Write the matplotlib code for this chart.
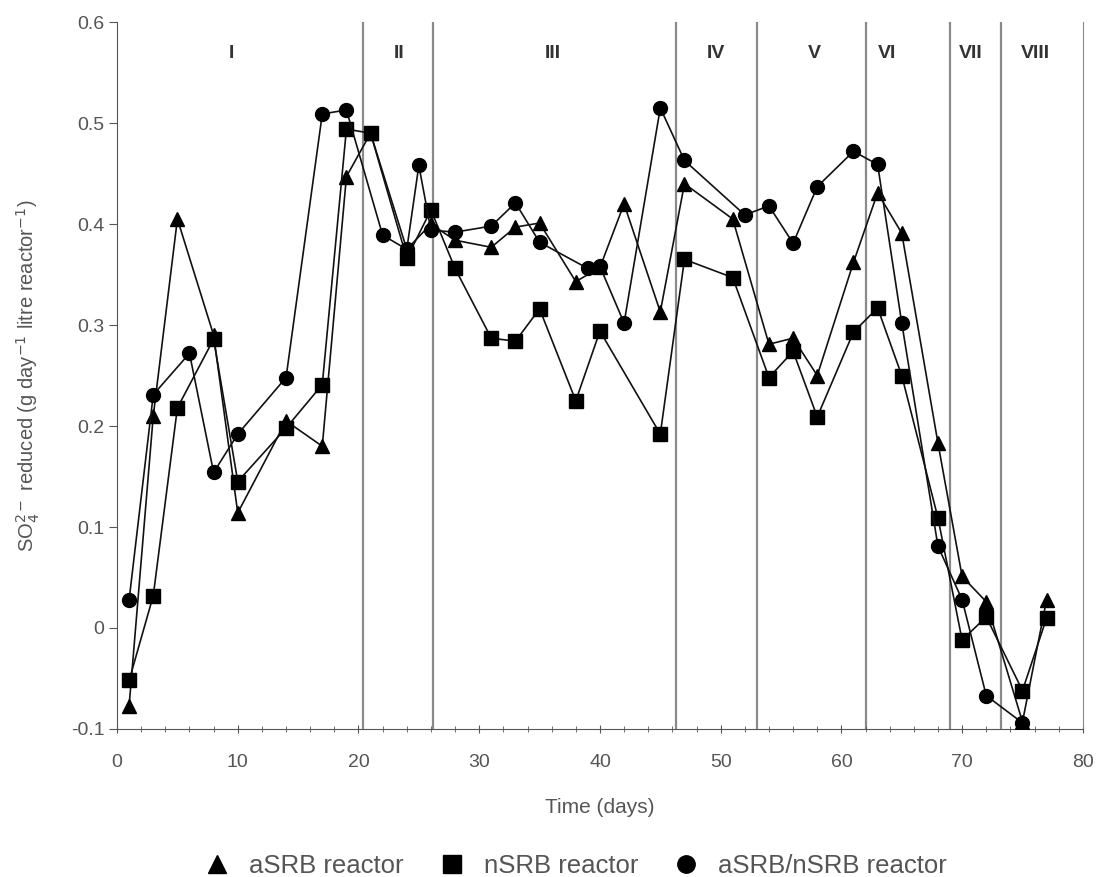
import numpy as np
import matplotlib.pyplot as plt
from matplotlib.ticker import MultipleLocator

plt.rcParams['font.family'] = ['Liberation Sans', 'DejaVu Sans']

# aSRB reactor (triangles)
a_days = [1, 3, 5, 8, 10, 14, 17, 19, 21, 24, 26, 28, 31, 33, 35, 38, 40, 42, 45, 47,
          51, 54, 56, 58, 61, 63, 65, 68, 70, 72, 75, 77]
a_vals = [-0.077, 0.21, 0.405, 0.29, 0.114, 0.205, 0.18, 0.447, 0.49, 0.375, 0.40, 0.384,
          0.377, 0.397, 0.401, 0.343, 0.357, 0.42, 0.313, 0.44, 0.405, 0.281, 0.287, 0.25,
          0.362, 0.431, 0.391, 0.183, 0.051, 0.026, -0.093, 0.028]

# nSRB reactor (squares)
n_days = [1, 3, 5, 8, 10, 14, 17, 19, 21, 24, 26, 28, 31, 33, 35, 38, 40, 45, 47, 51,
          54, 56, 58, 61, 63, 65, 68, 70, 72, 75, 77]
n_vals = [-0.052, 0.032, 0.218, 0.286, 0.145, 0.198, 0.241, 0.494, 0.49, 0.366, 0.414,
          0.356, 0.287, 0.284, 0.316, 0.225, 0.294, 0.192, 0.365, 0.347, 0.248, 0.274,
          0.209, 0.293, 0.317, 0.25, 0.109, -0.012, 0.011, -0.062, 0.010]

# aSRB/nSRB reactor (circles)
m_days = [1, 3, 6, 8, 10, 14, 17, 19, 22, 24, 25, 26, 28, 31, 33, 35, 39, 40, 42, 45,
          47, 52, 54, 56, 58, 61, 63, 65, 68, 70, 72, 75]
m_vals = [0.028, 0.231, 0.272, 0.154, 0.192, 0.248, 0.509, 0.513, 0.389, 0.375, 0.458,
          0.394, 0.392, 0.398, 0.421, 0.382, 0.356, 0.358, 0.302, 0.515, 0.463, 0.409,
          0.418, 0.381, 0.437, 0.472, 0.459, 0.302, 0.081, 0.028, -0.067, -0.094]

# phase boundaries and labels
bounds = [20.4, 26.2, 46.3, 53.0, 62.0, 69.0, 73.2]
phases = ["I", "II", "III", "IV", "V", "VI", "VII", "VIII"]
phase_x = [9.5, 23.4, 36.1, 49.6, 57.8, 63.8, 70.7, 76.1]

fig = plt.figure(figsize=(11, 8.77), dpi=100)
ax = fig.add_axes([0.1064, 0.1688, 0.878, 0.806])

for b in bounds:
    ax.axvline(b, color='#8a8a8a', linewidth=1.6, zorder=1)
for lab, px in zip(phases, phase_x):
    ax.text(px, 0.569, lab, ha='center', va='center', fontsize=14,
            fontweight='bold', color='#333333')

style = dict(color='#111111', linewidth=1.2, markersize=10,
             markerfacecolor='black', markeredgecolor='black', zorder=3)
ax.plot(a_days, a_vals, marker='^', label='aSRB reactor', **style)
ax.plot(n_days, n_vals, marker='s', label='nSRB reactor', **style)
ax.plot(m_days, m_vals, marker='o', label='aSRB/nSRB reactor', **style)

ax.set_xlim(0, 80)
ax.set_ylim(-0.1, 0.6)
ax.xaxis.set_major_locator(MultipleLocator(10))
ax.xaxis.set_minor_locator(MultipleLocator(2))
ax.set_yticks(np.arange(-0.1, 0.61, 0.1))
ax.set_yticklabels(["-0.1", "0", "0.1", "0.2", "0.3", "0.4", "0.5", "0.6"])

ax.spines['top'].set_visible(False)
ax.spines['right'].set_color('#8a8a8a')
ax.spines['left'].set_color('#555555')
ax.spines['bottom'].set_color('#555555')
ax.tick_params(axis='y', which='major', direction='out', length=6, pad=3,
               color='#555555', labelsize=14, labelcolor='#555555')
ax.tick_params(axis='x', which='major', direction='inout', length=6, pad=15,
               color='#555555', labelsize=14, labelcolor='#555555')
ax.tick_params(axis='x', which='minor', direction='inout', length=5, color='#555555')

ax.set_xlabel("Time (days)", fontsize=15, color='#555555')
ax.xaxis.set_label_coords(0.5, -0.098)
ax.set_ylabel(r"SO$_4^{2-}$ reduced (g day$^{-1}$ litre reactor$^{-1}$)",
              fontsize=14.5, color='#555555')
ax.yaxis.set_label_coords(-0.078, 0.5)

fig.legend(loc='center', ncol=3, frameon=False, fontsize=18.5,
           bbox_to_anchor=(0.529, 0.012), handlelength=0, handletextpad=1.25,
           columnspacing=1.85, labelcolor='#555555', markerscale=1.25)

fig.savefig("out.png", dpi=100)
plt.close()
